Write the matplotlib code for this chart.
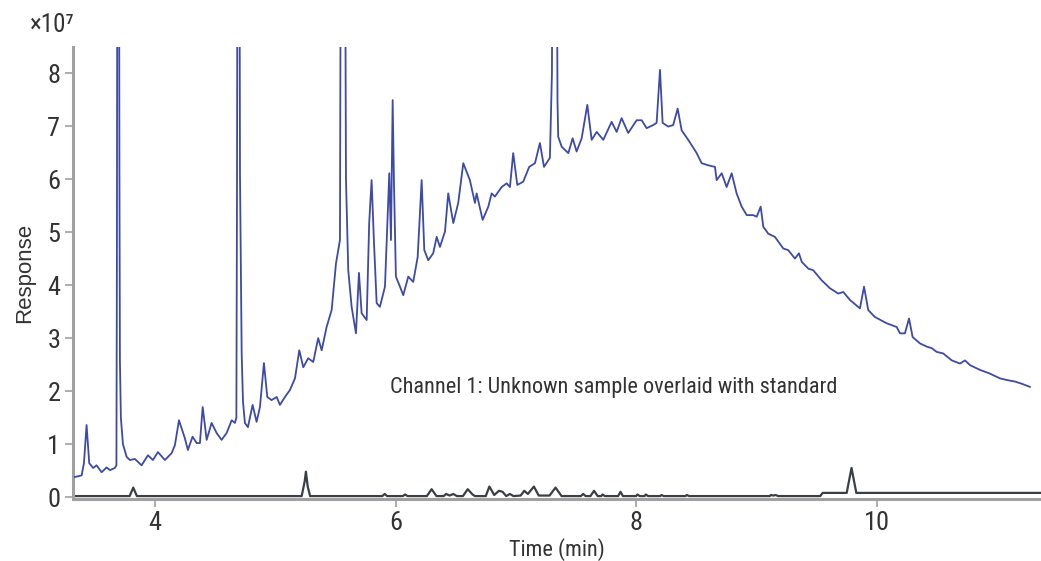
import matplotlib
matplotlib.use("Agg")
import matplotlib.pyplot as plt

# unknown sample (blue), time in min, response in 1e7 units
sample_time = [
    3.335, 3.391, 3.410, 3.432, 3.454, 3.487, 3.515, 3.557, 3.598, 3.626,
    3.667, 3.680, 3.684, 3.688, 3.701, 3.705, 3.709, 3.717, 3.734, 3.765,
    3.792, 3.834, 3.889, 3.942, 3.983, 4.025, 4.083, 4.139, 4.166, 4.200,
    4.249, 4.274, 4.313, 4.347, 4.374, 4.397, 4.430, 4.471, 4.513, 4.554,
    4.596, 4.638, 4.665, 4.677, 4.682, 4.687, 4.702, 4.707, 4.721, 4.732,
    4.748, 4.773, 4.812, 4.845, 4.873, 4.906, 4.934, 4.970, 5.012, 5.039,
    5.081, 5.122, 5.164, 5.200, 5.233, 5.274, 5.316, 5.357, 5.386, 5.427,
    5.469, 5.505, 5.538, 5.546, 5.579, 5.588, 5.607, 5.635, 5.671, 5.696,
    5.718, 5.760, 5.781, 5.801, 5.820, 5.843, 5.870, 5.912, 5.931, 5.948,
    5.962, 5.976, 5.987, 6.003, 6.037, 6.064, 6.106, 6.147, 6.184, 6.217,
    6.239, 6.272, 6.313, 6.342, 6.369, 6.411, 6.438, 6.480, 6.521, 6.563,
    6.618, 6.660, 6.674, 6.724, 6.771, 6.799, 6.826, 6.882, 6.924, 6.951,
    6.978, 7.012, 7.061, 7.111, 7.159, 7.200, 7.234, 7.283, 7.300, 7.306,
    7.339, 7.346, 7.352, 7.381, 7.436, 7.472, 7.505, 7.547, 7.594, 7.630,
    7.672, 7.727, 7.796, 7.838, 7.879, 7.934, 8.004, 8.046, 8.087, 8.142,
    8.170, 8.198, 8.220, 8.267, 8.308, 8.345, 8.378, 8.433, 8.503, 8.544,
    8.599, 8.655, 8.669, 8.711, 8.752, 8.794, 8.835, 8.877, 8.919, 8.973,
    9.002, 9.035, 9.057, 9.098, 9.153, 9.223, 9.264, 9.320, 9.353, 9.376,
    9.431, 9.472, 9.542, 9.611, 9.680, 9.722, 9.777, 9.860, 9.894, 9.929,
    9.983, 10.082, 10.165, 10.193, 10.234, 10.268, 10.298, 10.359, 10.415, 10.457,
    10.498, 10.553, 10.623, 10.692, 10.733, 10.775, 10.858, 10.941, 11.024, 11.080,
    11.149, 11.204, 11.273,
]
sample_resp = [
    0.38, 0.41, 0.64, 1.36, 0.64, 0.55, 0.60, 0.47, 0.56, 0.51,
    0.55, 0.60, 4.50, 12.0, 12.0, 6.13, 2.58, 1.50, 1.00, 0.76,
    0.70, 0.72, 0.60, 0.79, 0.70, 0.85, 0.70, 0.83, 0.98, 1.45,
    1.11, 0.89, 1.14, 1.02, 1.02, 1.70, 1.08, 1.40, 1.21, 1.08,
    1.21, 1.45, 1.40, 1.50, 5.60, 12.0, 12.0, 6.10, 2.72, 1.80,
    1.40, 1.32, 1.74, 1.42, 1.70, 2.53, 1.89, 1.83, 1.89, 1.74,
    1.89, 2.02, 2.24, 2.77, 2.45, 2.62, 2.55, 3.00, 2.77, 3.21,
    3.53, 4.41, 4.85, 12.0, 12.0, 6.00, 4.28, 3.59, 3.09, 4.23,
    3.47, 3.34, 5.17, 5.98, 4.85, 3.66, 3.59, 3.97, 5.10, 6.11,
    4.85, 7.49, 5.92, 4.16, 3.97, 3.81, 4.16, 4.06, 4.53, 5.98,
    4.66, 4.47, 4.60, 4.91, 4.72, 5.01, 5.73, 5.17, 5.55, 6.30,
    5.98, 5.55, 5.73, 5.23, 5.48, 5.73, 5.67, 5.85, 5.92, 5.85,
    6.49, 5.89, 5.95, 6.23, 6.30, 6.68, 6.23, 6.40, 8.00, 12.0,
    12.0, 7.50, 6.80, 6.61, 6.49, 6.77, 6.52, 6.77, 7.40, 6.74,
    6.89, 6.74, 7.08, 6.89, 7.15, 6.87, 7.11, 7.11, 6.96, 7.02,
    7.06, 8.06, 7.06, 6.99, 7.02, 7.33, 6.92, 6.74, 6.49, 6.30,
    6.26, 6.23, 5.98, 6.11, 5.85, 6.11, 5.73, 5.48, 5.32, 5.32,
    5.29, 5.48, 5.10, 4.97, 4.91, 4.69, 4.66, 4.50, 4.60, 4.44,
    4.31, 4.28, 4.09, 3.94, 3.84, 3.87, 3.72, 3.56, 3.97, 3.53,
    3.40, 3.28, 3.21, 3.09, 3.09, 3.37, 3.02, 2.90, 2.84, 2.81,
    2.74, 2.71, 2.58, 2.52, 2.58, 2.49, 2.40, 2.33, 2.24, 2.21,
    2.18, 2.14, 2.08,
]

# standard (dark trace)
std_time = [
    3.33, 3.79, 3.82, 3.85, 5.22, 5.245, 5.255, 5.27, 5.29, 5.89,
    5.91, 5.93, 6.06, 6.08, 6.10, 6.26, 6.30, 6.34, 6.40, 6.42,
    6.45, 6.48, 6.51, 6.56, 6.60, 6.64, 6.66, 6.75, 6.78, 6.82,
    6.86, 6.89, 6.92, 6.95, 6.98, 7.04, 7.07, 7.10, 7.15, 7.19,
    7.28, 7.33, 7.38, 7.54, 7.56, 7.58, 7.62, 7.65, 7.68, 7.71,
    7.72, 7.74, 7.85, 7.87, 7.89, 8.00, 8.01, 8.03, 8.07, 8.08,
    8.10, 8.20, 8.21, 8.23, 8.41, 8.42, 8.44, 9.11, 9.12, 9.14,
    9.16, 9.18, 9.53, 9.55, 9.75, 9.79, 9.83, 11.4,
]
std_resp = [
    0.02, 0.02, 0.18, 0.02, 0.02, 0.30, 0.48, 0.20, 0.02, 0.02,
    0.06, 0.02, 0.02, 0.05, 0.02, 0.02, 0.15, 0.02, 0.02, 0.06,
    0.03, 0.06, 0.02, 0.02, 0.15, 0.05, 0.02, 0.02, 0.20, 0.04,
    0.12, 0.10, 0.02, 0.06, 0.02, 0.03, 0.12, 0.06, 0.20, 0.03,
    0.03, 0.18, 0.02, 0.02, 0.06, 0.02, 0.02, 0.12, 0.02, 0.02,
    0.05, 0.02, 0.02, 0.10, 0.02, 0.02, 0.05, 0.02, 0.02, 0.05,
    0.02, 0.02, 0.04, 0.02, 0.02, 0.04, 0.02, 0.02, 0.04, 0.03,
    0.04, 0.02, 0.02, 0.08, 0.08, 0.55, 0.08, 0.08,
]

x_ticks = [4, 6, 8, 10]
y_ticks = [0, 1, 2, 3, 4, 5, 6, 7, 8]

plt.rcParams['font.family'] = ['Roboto Condensed', 'DejaVu Sans']
text_col = '#333333'
axis_col = '#a0a0a0'

fig = plt.figure(figsize=(10.41, 5.61), dpi=100)
ax = fig.add_axes([0.070, 0.111, 0.930, 0.806])

ax.plot(sample_time, sample_resp, color='#3d4aa8', lw=1.3, zorder=3)
ax.plot(std_time, std_resp, color='#3a3f46', lw=1.6, zorder=2)

ax.set_xlim(3.318, 11.365)
ax.set_ylim(-0.03, 8.5)
ax.set_xticks(x_ticks)
ax.set_yticks(y_ticks)

for side in ['top', 'right']:
    ax.spines[side].set_visible(False)
for side in ['left', 'bottom']:
    ax.spines[side].set_color(axis_col)
    ax.spines[side].set_linewidth(2.2)
ax.tick_params(direction='out', length=6, width=1.2, color=axis_col,
               labelsize=19, labelcolor=text_col, pad=3)

ax.set_xlabel('Time (min)', fontsize=16, color=text_col, labelpad=2)
ax.set_ylabel('Response', fontsize=16, color=text_col, labelpad=9,
              family=['Liberation Sans', 'DejaVu Sans'])
fig.text(0.029, 0.955, '×10⁷', fontsize=18, color=text_col,
         va='center', ha='left')
ax.text(5.95, 2.06, 'Channel 1: Unknown sample overlaid with standard',
        fontsize=16, color=text_col, va='center', ha='left')

fig.savefig('out.png', dpi=100)
